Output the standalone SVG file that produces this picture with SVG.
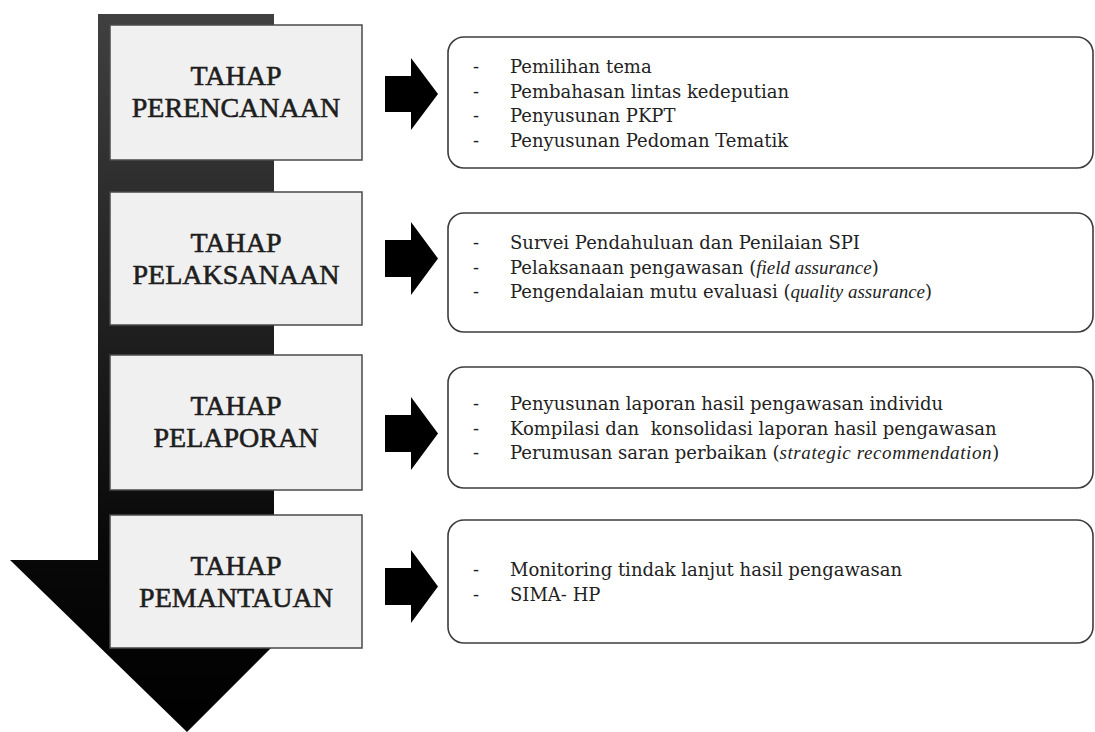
<svg xmlns="http://www.w3.org/2000/svg" width="1095" height="732" viewBox="0 0 1095 732">
  <defs>
    <linearGradient id="shaftGrad" gradientUnits="userSpaceOnUse" x1="0" y1="14" x2="0" y2="732">
      <stop offset="0" stop-color="#404040"/>
      <stop offset="0.75" stop-color="#080808"/>
      <stop offset="1" stop-color="#000000"/>
    </linearGradient>
  </defs>
  <style>
    .stage { fill: #f0f0f0; stroke: #4a4a4a; stroke-width: 1.5; }
    .stitle { font-family: "Liberation Serif", "DejaVu Serif", serif; font-size: 28px; fill: #1e1e1e; stroke: #1e1e1e; stroke-width: 0.6; text-anchor: middle; }
    .detail { fill: #ffffff; stroke: #3c3c3c; stroke-width: 1.6; }
    .item { font-family: "DejaVu Serif", "Liberation Serif", serif; font-size: 18px; fill: #222222; }
    .it { font-family: "Liberation Serif", serif; font-style: italic; font-size: 19px; }
    .conn { fill: #000000; }
  </style>
  <rect width="1095" height="732" fill="#ffffff"/>

  <g id="flow-arrow">
    <path d="M98,14 L274,14 L274,560 L359,560 L187,732 L10,560 L98,560 Z" fill="url(#shaftGrad)"/>
  </g>

  <g id="stage-perencanaan">
    <rect class="stage" x="110" y="25" width="252" height="135"/>
    <text class="stitle" x="236" y="85">TAHAP</text>
    <text class="stitle" x="236" y="117">PERENCANAAN</text>
  </g>
  <g id="stage-pelaksanaan">
    <rect class="stage" x="110" y="192" width="252" height="133"/>
    <text class="stitle" x="236" y="252">TAHAP</text>
    <text class="stitle" x="236" y="284">PELAKSANAAN</text>
  </g>
  <g id="stage-pelaporan">
    <rect class="stage" x="110" y="355" width="252" height="135"/>
    <text class="stitle" x="236" y="415">TAHAP</text>
    <text class="stitle" x="236" y="447">PELAPORAN</text>
  </g>
  <g id="stage-pemantauan">
    <rect class="stage" x="110" y="515" width="252" height="133"/>
    <text class="stitle" x="236" y="575">TAHAP</text>
    <text class="stitle" x="236" y="607">PEMANTAUAN</text>
  </g>

  <g id="connectors">
    <polygon class="conn" points="385,76 411,76 411,58 438,94 411,130 411,112 385,112"/>
    <polygon class="conn" points="385,240 411,240 411,222 438,258.5 411,295 411,277 385,277"/>
    <polygon class="conn" points="385,415 411,415 411,397 438,433.5 411,470 411,452 385,452"/>
    <polygon class="conn" points="385,568 411,568 411,550 438,586.5 411,623 411,605 385,605"/>
  </g>

  <g id="detail-perencanaan">
    <rect class="detail" x="448" y="37" width="645" height="131" rx="16"/>
    <text class="item" x="473" y="73">-</text><text class="item" x="510" y="73">Pemilihan tema</text>
    <text class="item" x="473" y="97.5">-</text><text class="item" x="510" y="97.5">Pembahasan lintas kedeputian</text>
    <text class="item" x="473" y="122">-</text><text class="item" x="510" y="122">Penyusunan PKPT</text>
    <text class="item" x="473" y="146.5">-</text><text class="item" x="510" y="146.5">Penyusunan Pedoman Tematik</text>
  </g>
  <g id="detail-pelaksanaan">
    <rect class="detail" x="448" y="213" width="645" height="119" rx="16"/>
    <text class="item" x="473" y="249">-</text><text class="item" x="510" y="249">Survei Pendahuluan dan Penilaian SPI</text>
    <text class="item" x="473" y="273.5">-</text><text class="item" x="510" y="273.5">Pelaksanaan pengawasan (<tspan class="it">field assurance</tspan>)</text>
    <text class="item" x="473" y="298">-</text><text class="item" x="510" y="298">Pengendalaian mutu evaluasi (<tspan class="it">quality assurance</tspan>)</text>
  </g>
  <g id="detail-pelaporan">
    <rect class="detail" x="448" y="367" width="645" height="121" rx="16"/>
    <text class="item" x="473" y="410">-</text><text class="item" x="510" y="410">Penyusunan laporan hasil pengawasan individu</text>
    <text class="item" x="473" y="434.5">-</text><text class="item" x="510" y="434.5" xml:space="preserve">Kompilasi dan  konsolidasi laporan hasil pengawasan</text>
    <text class="item" x="473" y="459">-</text><text class="item" x="510" y="459">Perumusan saran perbaikan (<tspan class="it" letter-spacing="0.6">strategic recommendation</tspan>)</text>
  </g>
  <g id="detail-pemantauan">
    <rect class="detail" x="448" y="520" width="645" height="123" rx="16"/>
    <text class="item" x="473" y="576">-</text><text class="item" x="510" y="576">Monitoring tindak lanjut hasil pengawasan</text>
    <text class="item" x="473" y="600.5">-</text><text class="item" x="510" y="600.5">SIMA- HP</text>
  </g>
</svg>
